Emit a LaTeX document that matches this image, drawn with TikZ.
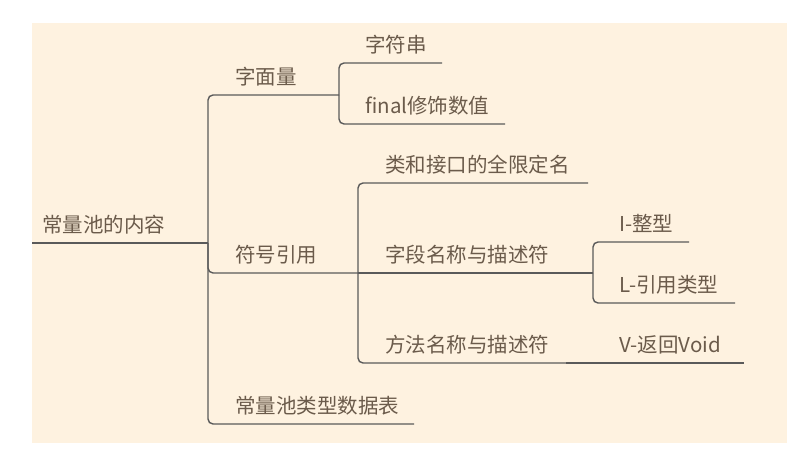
\documentclass[tikz,border=0pt]{standalone}
\usepackage{fontspec}
\setmainfont{Noto Sans CJK SC}
\usetikzlibrary{positioning}
\definecolor{paper}{HTML}{FEF2E0}
\definecolor{ink}{HTML}{6B5B4B}
\definecolor{wire}{HTML}{5A5A5A}
\tikzset{
	topic/.style={inner sep=0pt, anchor=base west, text=ink, font=\fontsize{20.5}{24}\selectfont},
	branch/.style={draw=wire, line width=1.4pt, rounded corners=5pt},
}
\begin{document}
\begin{tikzpicture}[x=1pt,y=-1pt]
	\useasboundingbox (0,0) rectangle (806,466);
	\fill[paper] (32,23) rectangle (787,443);
	%% root
	\coordinate (pool-s) at (32,243);
	\coordinate (pool-e) at (208,243);
	\node[above right=11pt and 10pt of pool-s, topic] (pool) {常量池的内容};
	\draw[branch] (pool-s) -- (pool-e);
	%% 字面量
	\coordinate (lit-e) at (339,95);
	\coordinate (lit-s) at (pool-e |- lit-e);
	\node[above right=11pt and 27pt of lit-s, topic] (lit) {字面量};
	\coordinate (str-e) at (442,63);
	\coordinate (str-s) at (lit-e |- str-e);
	\node[above right=11pt and 26pt of str-s, topic] (str) {字符串};
	\coordinate (fin-e) at (505,124);
	\coordinate (fin-s) at (lit-e |- fin-e);
	\node[above right=11pt and 26pt of fin-s, topic] (fin) {final修饰数值};
	%% 符号引用
	\coordinate (sym-e) at (358,273);
	\coordinate (sym-s) at (pool-e |- sym-e);
	\node[above right=11pt and 27pt of sym-s, topic] (sym) {符号引用};
	\coordinate (cls-e) at (588,183);
	\coordinate (cls-s) at (sym-e |- cls-e);
	\node[above right=11pt and 27pt of cls-s, topic] (cls) {类和接口的全限定名};
	\coordinate (fld-e) at (593,273);
	\node[above right=11pt and 27pt of sym-e, topic] (fld) {字段名称与描述符};
	\coordinate (int-e) at (689,242);
	\coordinate (int-s) at (fld-e |- int-e);
	\node[above right=11pt and 26pt of int-s, topic] (int) {I-整型};
	\coordinate (ref-e) at (735,303);
	\coordinate (ref-s) at (fld-e |- ref-e);
	\node[above right=11pt and 26pt of ref-s, topic] (ref) {L-引用类型};
	\coordinate (mth-e) at (566,363);
	\coordinate (mth-s) at (sym-e |- mth-e);
	\node[above right=11pt and 27pt of mth-s, topic] (mth) {方法名称与描述符};
	\coordinate (void-e) at (744,363);
	\node[above right=11pt and 53pt of mth-e, topic] (void) {V-返回Void};
	%% 常量池类型数据表
	\coordinate (tab-e) at (414,424);
	\coordinate (tab-s) at (pool-e |- tab-e);
	\node[above right=11pt and 27pt of tab-s, topic] (tab) {常量池类型数据表};
	% 连线
	\draw[branch] (pool-e) |- (lit-e);
	\draw[branch] (pool-e) |- (sym-e);
	\draw[branch] (pool-e) |- (tab-e);
	\draw[branch] (lit-e) |- (str-e);
	\draw[branch] (lit-e) |- (fin-e);
	\draw[branch] (sym-e) |- (cls-e);
	\draw[branch] (sym-e) -- (fld-e);
	\draw[branch] (sym-e) |- (mth-e);
	\draw[branch] (fld-e) |- (int-e);
	\draw[branch] (fld-e) |- (ref-e);
	\draw[branch] (mth-e) -- (void-e);
\end{tikzpicture}
\end{document}
